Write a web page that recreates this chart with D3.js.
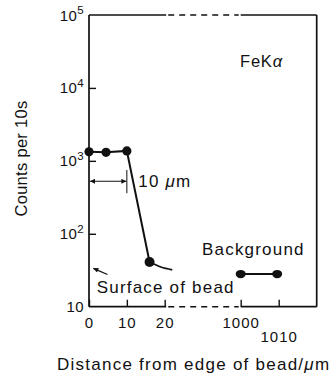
<!DOCTYPE html>
<html>
<head>
<meta charset="utf-8">
<script src="https://cdn.jsdelivr.net/npm/d3@7"></script>
<style>
  body { margin: 0; background: #fff; }
  svg { display: block; }
  text { font-family: "Liberation Sans", Arial, sans-serif; fill: #111; }
</style>
</head>
<body>
<script>
// chart data
var profileX = [0, 4.5, 10, 16];          // distance from bead edge (um)
var profileY = [1330, 1310, 1370, 41];    // counts per 10 s
var tailX = [16, 19, 22];                 // fall-off curve past last point
var tailY = [41, 35, 32];
var bgX = [1000, 1009.6];                 // background measurement
var bgY = [28, 28];
var yTicks = [10, 100, 1000, 10000, 100000];
var yExp = ["", "2", "3", "4", "5"];
var xTicks = [0, 10, 20, 1000, 1010];
var breakX = [20.4, 1000];                // broken axis region

var w = 334, h = 375;
var plotL = 89, plotR = 316.7, plotT = 15, plotB = 306.7;

var svg = d3.select("body").append("svg")
    .attr("width", w)
    .attr("height", h);

svg.append("rect").attr("width", w).attr("height", h).attr("fill", "#fff");

// broken x scale: 0..23 then a jump to 1000..1020
var x = d3.scaleLinear()
    .domain([0, 23, 1000, 1020])
    .range([plotL, plotL + 23 * 3.785, 240.7, plotR]);

var y = d3.scaleLog()
    .domain([10, 1e5])
    .range([plotB, plotT]);

var defs = svg.append("defs");
defs.append("marker")
    .attr("id", "arr")
    .attr("viewBox", "0 0 10 10")
    .attr("refX", 10).attr("refY", 5)
    .attr("markerWidth", 7).attr("markerHeight", 5)
    .attr("markerUnits", "userSpaceOnUse")
    .attr("orient", "auto-start-reverse")
    .append("path")
    .attr("d", "M0,0L10,5L0,10z")
    .attr("fill", "#111");

// frame
var frame = svg.append("g").attr("class", "frame")
    .attr("stroke", "#111").attr("stroke-width", 1.7).attr("fill", "none");

frame.append("line").attr("x1", x(0)).attr("x2", x(0)).attr("y1", y(1e5)).attr("y2", y(10));
frame.append("line").attr("x1", x(1020)).attr("x2", x(1020)).attr("y1", y(1e5)).attr("y2", y(10));

[1e5, 10].forEach(function(v){
    frame.append("line").attr("x1", x(0)).attr("x2", x(breakX[0])).attr("y1", y(v)).attr("y2", y(v));
    frame.append("line").attr("x1", x(breakX[0]) + 2).attr("x2", x(breakX[1]) - 2).attr("y1", y(v)).attr("y2", y(v))
        .attr("stroke-dasharray", "6,5").attr("stroke-width", 1.4);
    frame.append("line").attr("x1", x(breakX[1])).attr("x2", x(1020)).attr("y1", y(v)).attr("y2", y(v));
});

// y axis ticks (inward)
var yAxis = svg.append("g")
    .attr("transform", "translate(" + x(0) + ",0)")
    .call(d3.axisLeft(y).tickValues(yTicks.slice(1, 4)).tickSize(-7).tickFormat(""));
yAxis.select(".domain").remove();
yAxis.selectAll(".tick line").attr("stroke", "#111").attr("stroke-width", 1.4);

var yLab = svg.append("g").selectAll("text")
    .data(yTicks)
    .join("text")
    .attr("x", x(0) - 5)
    .attr("y", function(d){ return y(d) + 5.5; })
    .attr("text-anchor", "end")
    .style("font-size", "15px")
    .style("letter-spacing", "0.4px");
yLab.append("tspan").text("10");
yLab.filter(function(d, i){ return yExp[i] !== ""; })
    .append("tspan")
    .attr("dy", -6.5)
    .style("font-size", "11.5px")
    .text(function(d){ return yExp[yTicks.indexOf(d)]; });

// x axis ticks (inward)
var xAxis = svg.append("g")
    .attr("transform", "translate(0," + y(10) + ")")
    .call(d3.axisBottom(x).tickValues(xTicks).tickSize(-7).tickFormat(""));
xAxis.select(".domain").remove();
xAxis.selectAll(".tick line").attr("stroke", "#111").attr("stroke-width", 1.4);

svg.append("g").selectAll("text")
    .data(xTicks)
    .join("text")
    .attr("x", function(d){ return x(d) + 0.5; })
    .attr("y", function(d){ return d === 1010 ? 342 : 327.5; })
    .attr("text-anchor", "middle")
    .style("font-size", "15px")
    .style("letter-spacing", "1px")
    .text(function(d){ return d; });

// axis titles
svg.append("text")
    .attr("transform", "translate(27," + 158.5 + ") rotate(-90)")
    .attr("text-anchor", "middle")
    .style("font-size", "16.5px")
    .style("letter-spacing", "0.3px")
    .text("Counts per 10s");

var xt = svg.append("text")
    .attr("x", 57).attr("y", 370)
    .style("font-size", "17px")
    .style("letter-spacing", "1.25px")
    .text("Distance from edge of bead/");
xt.append("tspan").style("font-style", "italic").text("μ");
xt.append("tspan").text("m");

// profile line
var line = d3.line()
    .x(function(d){ return x(d[0]); })
    .y(function(d){ return y(d[1]); });

svg.append("path")
    .datum(d3.zip(profileX, profileY))
    .attr("d", line)
    .attr("fill", "none")
    .attr("stroke", "#111")
    .attr("stroke-width", 2);

var curveLine = d3.line()
    .x(function(d){ return x(d[0]); })
    .y(function(d){ return y(d[1]); })
    .curve(d3.curveNatural);

svg.append("path")
    .datum(d3.zip(tailX, tailY))
    .attr("d", curveLine)
    .attr("fill", "none")
    .attr("stroke", "#111")
    .attr("stroke-width", 1.8);

svg.append("g").selectAll("circle")
    .data(d3.zip(profileX, profileY))
    .join("circle")
    .attr("cx", function(d){ return x(d[0]); })
    .attr("cy", function(d){ return y(d[1]); })
    .attr("r", function(d, i){ return i === 3 ? 5 : 4.6; })
    .attr("fill", "#111");

// background
svg.append("path")
    .datum(d3.zip(bgX, bgY))
    .attr("d", line)
    .attr("stroke", "#111")
    .attr("stroke-width", 2);

svg.append("g").selectAll("ellipse")
    .data(d3.zip(bgX, bgY))
    .join("ellipse")
    .attr("cx", function(d){ return x(d[0]); })
    .attr("cy", function(d){ return y(d[1]); })
    .attr("rx", 5).attr("ry", 4.2)
    .attr("fill", "#111");

// 10 um width marker
svg.append("line")
    .attr("x1", x(10)).attr("x2", x(10))
    .attr("y1", y(750)).attr("y2", y(360))
    .attr("stroke", "#111").attr("stroke-width", 1);

svg.append("line")
    .attr("x1", x(0) + 1).attr("x2", x(10) - 0.5)
    .attr("y1", y(525)).attr("y2", y(525))
    .attr("stroke", "#111").attr("stroke-width", 1.2)
    .attr("marker-start", "url(#arr)")
    .attr("marker-end", "url(#arr)");

var um = svg.append("text")
    .attr("x", 138.3).attr("y", 186.7)
    .style("font-size", "17px")
    .style("letter-spacing", "1.2px")
    .text("10 ");
um.append("tspan").style("font-style", "italic").text("μ");
um.append("tspan").text("m");

// labels
var fe = svg.append("text")
    .attr("x", 240).attr("y", 66.7)
    .style("font-size", "16.5px")
    .style("letter-spacing", "0.8px")
    .text("FeK");
fe.append("tspan").style("font-style", "italic").text("α");

svg.append("text")
    .attr("x", 202).attr("y", 255)
    .style("font-size", "17px")
    .style("letter-spacing", "1.2px")
    .text("Background");

svg.append("text")
    .attr("x", 96.7).attr("y", 293)
    .style("font-size", "17px")
    .style("letter-spacing", "1.2px")
    .text("Surface of bead");

svg.append("line")
    .attr("x1", 107.5).attr("y1", 274.5)
    .attr("x2", 93.3).attr("y2", 268.3)
    .attr("stroke", "#111").attr("stroke-width", 1.3)
    .attr("marker-end", "url(#arr)");
</script>
</body>
</html>
